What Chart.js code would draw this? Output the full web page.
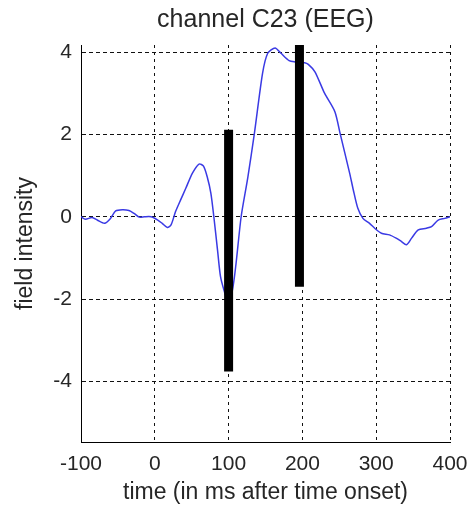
<!DOCTYPE html>
<html>
<head>
<meta charset="utf-8">
<script src="https://cdn.jsdelivr.net/npm/chart.js@4.4.0/dist/chart.umd.min.js"></script>
<style>
  html, body { margin: 0; padding: 0; background: #fff; }
  canvas { display: block; }
</style>
</head>
<body>
<canvas id="eegChart" width="471" height="510"></canvas>
<script>
// EEG trace (time in ms, field intensity)
const timeMs = [-100, -94, -85, -78, -68, -60, -53, -44, -35, -28, -21, -14, -5, 4, 10, 17, 22, 28, 35, 42,
                51, 60, 66, 71, 76, 80, 85, 89, 94, 99, 105, 110, 117, 126, 135, 146, 153, 163, 171, 182,
                190, 203, 208, 217, 230, 244, 251, 264, 269, 275, 282, 291, 298, 307, 318, 327, 334, 341, 348, 357,
                368, 375, 384, 393, 400];
const fieldIntensity = [0.0, -0.06, -0.02, -0.08, -0.16, -0.04, 0.14, 0.17, 0.15, 0.08, -0.01, 0.0, 0.0, -0.08, -0.16, -0.26, -0.2, 0.12, 0.41, 0.69,
                        1.06, 1.28, 1.23, 0.97, 0.57, 0.0, -0.81, -1.45, -1.8, -2.05, -1.8, -1.15, 0.0, 0.95, 2.03, 3.48, 3.97, 4.1, 3.97, 3.79,
                        3.76, 3.74, 3.7, 3.52, 3.0, 2.55, 2.03, 1.06, 0.65, 0.21, -0.04, -0.16, -0.28, -0.4, -0.44, -0.52, -0.6, -0.68, -0.52, -0.32,
                        -0.28, -0.24, -0.08, -0.04, 0.0];

// thick black markers
const markerTimes = [100, 196];
const markerLow = [-3.76, -1.70];
const markerHigh = [2.11, 4.17];

const xTicks = [-100, 0, 100, 200, 300, 400];
const yTicks = [-4, -2, 0, 2, 4];

Chart.defaults.font.family = '"Liberation Sans", Arial, sans-serif';
Chart.defaults.color = '#262626';

const traceData = timeMs.map((t, i) => ({ x: t, y: fieldIntensity[i] }));

const markerSets = markerTimes.map((t, i) => ({
    data: [{ x: t, y: markerLow[i] }, { x: t, y: markerHigh[i] }],
    showLine: true,
    borderColor: '#000',
    borderWidth: 9,
    borderCapStyle: 'butt',
    pointRadius: 0,
    order: 1
}));

const ctx = document.getElementById('eegChart').getContext('2d');

new Chart(ctx, {
    type: 'scatter',
    data: {
        datasets: [
            {
                data: traceData,
                showLine: true,
                borderColor: '#3a3ae4',
                borderWidth: 1.5,
                pointRadius: 0,
                tension: 0.25,
                order: 2
            },
            ...markerSets
        ]
    },
    options: {
        responsive: false,
        animation: false,
        devicePixelRatio: 1,
        layout: { padding: { left: 0, right: 21, top: 0, bottom: 0 } },
        plugins: {
            legend: { display: false },
            tooltip: { enabled: false },
            title: {
                display: true,
                text: 'channel C23 (EEG)',
                fullSize: false,
                color: '#262626',
                font: { size: 25, weight: 'normal' },
                padding: { top: 5, bottom: 10 }
            }
        },
        scales: {
            x: {
                type: 'linear',
                min: -100,
                max: 400,
                afterBuildTicks: scale => { scale.ticks = xTicks.map(v => ({ value: v })); },
                afterFit: scale => { scale.height = 68; scale.paddingLeft = 0; scale.paddingRight = 0; },
                grid: { color: '#111', lineWidth: 1, drawTicks: false },
                border: { display: true, color: '#000', width: 1, dash: [3, 4] },
                ticks: { font: { size: 21 }, padding: 10 },
                title: {
                    display: true,
                    text: 'time (in ms after time onset)',
                    font: { size: 23 },
                    padding: { top: 0, bottom: 4 }
                }
            },
            y: {
                type: 'linear',
                min: -5.47,
                max: 4.17,
                afterBuildTicks: scale => { scale.ticks = yTicks.map(v => ({ value: v })); },
                afterFit: scale => { scale.width = 81; scale.paddingTop = 0; scale.paddingBottom = 0; },
                grid: { color: '#111', lineWidth: 1, drawTicks: false },
                border: { display: true, color: '#000', width: 1, dash: [4, 3] },
                ticks: { font: { size: 21 }, padding: 9 },
                title: {
                    display: true,
                    text: 'field intensity',
                    font: { size: 23 },
                    padding: { top: 12, bottom: 0 }
                }
            }
        }
    }
});
</script>
</body>
</html>
